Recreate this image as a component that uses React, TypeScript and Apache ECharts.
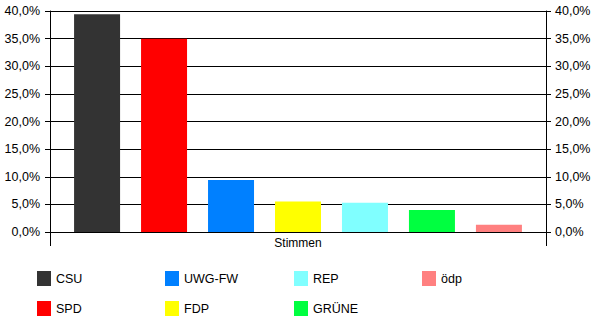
import React, { useEffect, useRef } from "react";
import * as echarts from "echarts";

const categories = ["Stimmen"];
const parties = ["CSU", "SPD", "UWG-FW", "FDP", "REP", "GRÜNE", "ödp"];
const values = [39.4, 35.0, 9.4, 5.5, 5.3, 4.0, 1.3];
const colors = ["#333333", "#FF0000", "#0080FF", "#FFFF00", "#80FFFF", "#00FF40", "#FF8080"];
const legendColumns = [["CSU", "SPD"], ["UWG-FW", "FDP"], ["REP", "GRÜNE"], ["ödp"]];
const legendLefts = [32, 160, 289, 417];

const fmt = (v: number) => v.toFixed(1).replace(".", ",") + "%";

export default function App() {
  const ref = useRef<HTMLDivElement>(null);
  useEffect(() => {
    document.body.style.margin = "0";
    const chart = echarts.init(ref.current!, null, { renderer: "svg" });
    const font = "Liberation Sans, Arial, sans-serif";
    const yAxisBase = {
      type: "value" as const,
      min: 0,
      max: 40,
      interval: 5,
      axisLine: { show: true, lineStyle: { color: "#000", width: 1 } },
      axisTick: { show: true, length: 5, lineStyle: { color: "#000" } },
      splitLine: { show: true, lineStyle: { color: "#000", width: 1 } },
      axisLabel: { color: "#000", fontSize: 12.5, fontFamily: font, formatter: fmt },
    };
    chart.setOption({
      animation: false,
      backgroundColor: "#fff",
      grid: { left: 50, right: 54, top: 11, bottom: 94, containLabel: false },
      xAxis: {
        type: "category",
        data: categories,
        boundaryGap: true,
        axisLine: { lineStyle: { color: "#000", width: 1 } },
        axisTick: { show: true, length: 14, lineStyle: { color: "#000" } },
        axisLabel: { color: "#000", fontSize: 12, fontFamily: font, margin: 5 },
      },
      yAxis: [
        { ...yAxisBase, position: "left", axisLabel: { ...yAxisBase.axisLabel, margin: 10 } },
        { ...yAxisBase, position: "right", splitLine: { show: false }, axisLabel: { ...yAxisBase.axisLabel, margin: 9 } },
      ],
      legend: legendColumns.map((col, i) => ({
        orient: "vertical",
        left: legendLefts[i],
        top: 266,
        itemWidth: 14,
        itemHeight: 15,
        itemGap: 15,
        icon: "rect",
        data: col,
        textStyle: { color: "#000", fontSize: 12.5, fontFamily: font },
        selectedMode: false,
      })),
      series: parties.map((p, i) => ({
        name: p,
        type: "bar",
        data: [values[i]],
        barWidth: 46,
        barGap: "45.6%",
        itemStyle: { color: colors[i] },
      })),
    });
    return () => chart.dispose();
  }, []);
  return <div ref={ref} style={{ width: 600, height: 326 }} />;
}
